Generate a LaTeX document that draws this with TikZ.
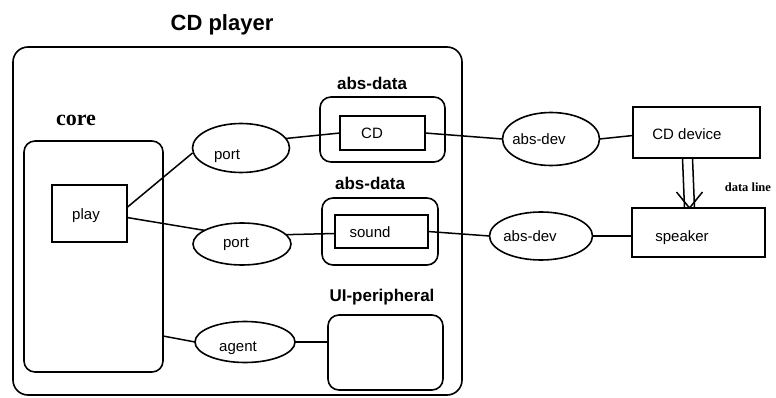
\documentclass[tikz,border=0pt]{standalone}
\usepackage{fontspec}
\setmainfont{Liberation Serif}
\setsansfont{Liberation Sans}
\usetikzlibrary{shapes.geometric}
\begin{document}
\begin{tikzpicture}[x=1pt,y=-1pt,line width=1.6pt,
  box/.style={draw,rectangle,inner sep=0pt,outer sep=0pt},
  rbox/.style={box,rounded corners=11pt},
  ell/.style={draw,ellipse,inner sep=0pt,outer sep=0pt},
  lbl/.style={font=\sffamily\fontsize{15}{15}\selectfont,inner sep=0pt},
  hdr/.style={font=\sffamily\bfseries\fontsize{17}{17}\selectfont,inner sep=0pt},
  conn/.style={line width=1.5pt}]
\useasboundingbox (0,0) rectangle (776,398);

% title and containers
\node[font=\sffamily\bfseries\fontsize{22}{22}\selectfont,inner sep=0pt] (title) at (222,25) {CD player};
\node[rbox,rounded corners=15pt,minimum width=449pt,minimum height=348pt] (outer) at (237.5,221) {};
\node[font=\bfseries\fontsize{22}{22}\selectfont,inner sep=0pt] (corelbl) at (76,120) {core};
\node[rbox,minimum width=139pt,minimum height=231pt] (core) at (93.5,256.5) {};
\node[box,minimum width=75pt,minimum height=57pt] (play) at (89.5,213.5) {};
\node[lbl] (playtxt) at (86,216) {play};

\node[hdr] (ad1lbl) at (372,83) {abs-data};
\node[rbox,minimum width=125pt,minimum height=65pt] (absd1) at (382.5,129.5) {};
\node[box,minimum width=85pt,minimum height=34pt] (cd) at (382.5,133) {};
\node[lbl] (cdtxt) at (372,133) {CD};

\node[hdr] (ad2lbl) at (370,183) {abs-data};
\node[rbox,minimum width=116pt,minimum height=67pt] (absd2) at (380,231.5) {};
\node[box,minimum width=93pt,minimum height=33pt] (sound) at (381.5,231.5) {};
\node[lbl] (soundtxt) at (370,232) {sound};

\node[hdr] (uilbl) at (382,297) {UI-peripheral};
\node[rbox,minimum width=115pt,minimum height=75pt] (ui) at (385.5,352.5) {};

% ellipses
\node[ell,minimum width=97pt,minimum height=49pt] (p1) at (241,148) {};
\node[lbl] (p1txt) at (227,156) {port};
\node[ell,minimum width=98pt,minimum height=42pt] (p2) at (242,244) {};
\node[lbl] (p2txt) at (236,244) {port};
\node[ell,minimum width=100pt,minimum height=41pt] (ag) at (245,342) {};
\node[lbl] (agtxt) at (238,348) {agent};
\node[ell,minimum width=97pt,minimum height=53pt] (ad1) at (551,139) {};
\node[lbl] (ad1txt) at (539,139) {abs-dev};
\node[ell,minimum width=103pt,minimum height=48pt] (ad2) at (541,236) {};
\node[lbl] (ad2txt) at (530,236) {abs-dev};

% devices
\node[box,minimum width=127pt,minimum height=51pt] (cddev) at (696.5,132.5) {};
\node[lbl] (cddevtxt) at (687,134) {CD device};
\node[box,minimum width=133pt,minimum height=49pt] (spk) at (698.5,232.5) {};
\node[lbl] (spktxt) at (682,238) {speaker};
\node[font=\bfseries\fontsize{12.5}{12.5}\selectfont,inner sep=0pt,anchor=west] (dl) at (724,187) {data line};

% connectors
\draw[conn] ([yshift=6pt]play.east) -- ([yshift=-5pt]p1.west);
\draw[conn] ([yshift=-4pt]play.east) -- (p2.160);
\draw[conn] (p1.12) -- (cd.west);
\draw[conn] (p2.12) -- ([yshift=-2pt]sound.west);
\draw[conn] (cd.east) -- (ad1.west);
\draw[conn] (ad1.east) -- ([yshift=-3pt]cddev.west);
\draw[conn] (sound.east) -- (ad2.west);
\draw[conn] (ad2.east) -- (ad2.east -| spk.west);
\draw[conn] ([yshift=6pt]core.east |- ag.west) -- (ag.west);
\draw[conn] (ag.east) -- (ag.east -| ui.west);

% data line
\draw[conn] ([xshift=-14pt]cddev.south) -- ([xshift=-14pt]spk.north);
\draw[conn] ([xshift=-4pt]cddev.south) -- ([xshift=-4pt]spk.north);
\draw[conn] ([xshift=-22pt,yshift=16pt]spk.north) -- ([xshift=-9pt]spk.north) -- ([xshift=4pt,yshift=16pt]spk.north);
\end{tikzpicture}
\end{document}
